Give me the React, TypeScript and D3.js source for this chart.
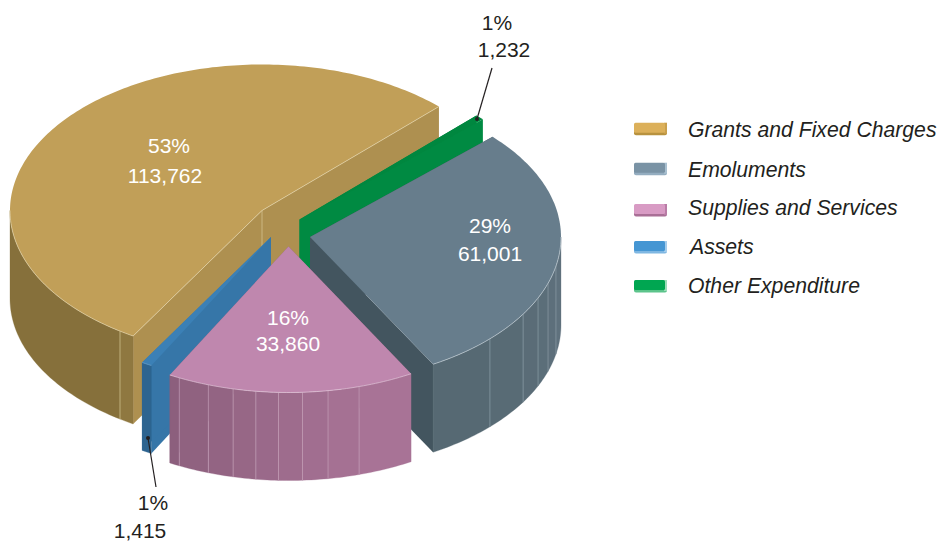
import React, { useEffect, useRef } from "react";
import { select, pie, line, range, interpolateRgb } from "d3";

// chart values, in legend order
const categories = ["Grants and Fixed Charges", "Emoluments", "Supplies and Services", "Assets", "Other Expenditure"];
const amounts = [113762, 61001, 33860, 1415, 1232];
const percentLabels = ["53%", "29%", "16%", "1%", "1%"];
const amountLabels = ["113,762", "61,001", "33,860", "1,415", "1,232"];

// slices run clockwise from the thin green one
const pieOrder = [4, 1, 2, 3, 0];
const startDeg = 44.6;

// facet lines on the outer wall, degrees clockwise from 12 o'clock
const facetLines = [[214.3], [134.2, 121.9, 114.7, 108.5, 101.5], [205.9, 198.7, 192.8, 187.5, 182.3, 176.8, 170.9, 163.6], [], []];

// layout
const radiiX = [252, 251, 250, 252, 252];
const ry = 146;
const depth = 88;
const sliceCenters = [[262, 210.5], [310, 237], [288.5, 246.5], [271, 237], [299.5, 219.5]];
const insideLabels = [[[169, 153], [165, 183]], [[490, 233], [490, 261]], [[288, 325], [288, 351]]];
const legendRows = [[122.7, 137], [162.7, 177], [204, 215], [241, 254], [280, 293]];
const legendTextX = [688, 688, 688, 690, 688];

const sliceStyles = [
  { top: "#c19f58", cut: "#ae9050", wallFrom: "#8f7840", wallTo: "#86703b", rim: "#e2d3a8", divider: "#d8c896", edge: true },
  { top: "#677d8c", cut: "#43555f", wallFrom: "#5f717d", wallTo: "#566973", rim: "#c3ced6", divider: "#8b9ca7", edge: false },
  { top: "#bf87ae", cut: "#8f6280", wallFrom: "#a87396", wallTo: "#8c5f7d", rim: "#e3c6da", divider: "#c49fb8", edge: false },
  { top: "#3b80b6", cut: "#3676a8", wallFrom: "#2d6490", wallTo: "#2d6490", rim: "#6ea3cb", divider: "#6ea3cb", edge: false },
  { top: "#00873f", cut: "#008a42", wallFrom: "#008a42", wallTo: "#008a42", rim: "#4fb07c", divider: "#4fb07c", edge: false },
];
const legendStyles = [
  { main: "#dcb05a", under: "#b8923f", side: "#c9a04d" },
  { main: "#7a93a5", under: "#94adc0", side: "#a9c0d0" },
  { main: "#d89bc4", under: "#a96f96", side: "#b97ca6" },
  { main: "#4596d3", under: "#7fb7e2", side: "#a5cdec" },
  { main: "#00a651", under: "#5cc48b", side: "#9bdcb8" },
];

const rad = (d: number) => (d * Math.PI) / 180;
const sansFont = "'Liberation Sans', Arial, sans-serif";
const labelSize = 21;

function App() {
  const svgRef = useRef<SVGSVGElement>(null);

  useEffect(() => {
    const svg = select(svgRef.current);
    svg.selectAll("*").remove();

    const arcs = pie<number>()
      .sort(null)
      .value((i) => amounts[i])
      .startAngle(rad(startDeg))
      .endAngle(rad(startDeg + 360))(pieOrder);

    const path = line<number[]>().x((p) => p[0]).y((p) => p[1]);

    // painted back to front
    const paintOrder = [0, 4, 3, 1, 2];
    paintOrder.forEach((idx) => {
      const arc = arcs.find((a) => a.data === idx)!;
      const [cx, cy] = sliceCenters[idx];
      const rx = radiiX[idx];
      const style = sliceStyles[idx];
      const g = svg.append("g");

      const rimPoint = (a: number, drop = 0) => [cx + rx * Math.sin(a), cy - ry * Math.cos(a) + drop];
      const sweep = (a0: number, a1: number, drop = 0) => {
        const n = Math.max(2, Math.ceil(Math.abs(a1 - a0) / rad(1)));
        return range(n + 1).map((i) => rimPoint(a0 + ((a1 - a0) * i) / n, drop));
      };

      // flat cut faces
      [arc.startAngle, arc.endAngle].forEach((a) => {
        const r = rimPoint(a);
        g.append("path")
          .attr("d", path([[cx, cy], r, [r[0], r[1] + depth], [cx, cy + depth]]) + "Z")
          .attr("fill", style.cut);
      });
      if (style.edge) {
        g.append("line").attr("x1", cx).attr("y1", cy).attr("x2", cx).attr("y2", cy + depth)
          .attr("stroke", style.divider).attr("stroke-width", 0.7);
      }

      // outer wall, only the part that faces the viewer
      const a0 = Math.max(arc.startAngle, Math.PI / 2);
      const a1 = Math.min(arc.endAngle, (3 * Math.PI) / 2);
      if (a1 > a0) {
        const stops = [a0, ...facetLines[idx].map(rad).sort((x, y) => x - y), a1];
        const tint = interpolateRgb(style.wallFrom, style.wallTo);
        stops.slice(1).forEach((stop, i) => {
          const from = stops[i];
          const shade = tint(stops.length > 2 ? i / (stops.length - 2) : 0);
          g.append("path")
            .attr("d", path([...sweep(from, stop), ...sweep(stop, from, depth)]) + "Z")
            .attr("fill", shade)
            .attr("stroke", shade)
            .attr("stroke-width", 0.3);
        });
        facetLines[idx].forEach((d) => {
          const p = rimPoint(rad(d));
          g.append("line").attr("x1", p[0]).attr("y1", p[1]).attr("x2", p[0]).attr("y2", p[1] + depth)
            .attr("stroke", style.divider).attr("stroke-width", 0.7);
        });
      }

      // top face
      g.append("path")
        .attr("d", path([[cx, cy], ...sweep(arc.startAngle, arc.endAngle)]) + "Z")
        .attr("fill", style.top);

      if (a1 > a0) {
        g.append("path").attr("d", path(sweep(a0, a1))).attr("fill", "none")
          .attr("stroke", style.rim).attr("stroke-width", 0.7);
      }
      if (style.edge) {
        const e0 = rimPoint(arc.startAngle);
        const e1 = rimPoint(arc.endAngle);
        g.append("path").attr("d", path([e0, [cx, cy], e1])).attr("fill", "none")
          .attr("stroke", style.rim).attr("stroke-width", 0.7);
      }
    });

    // labels on the big slices
    insideLabels.forEach(([pct, amt], i) => {
      const t = svg.append("g").attr("fill", "#ffffff").attr("font-family", sansFont).attr("font-size", labelSize).attr("text-anchor", "middle");
      t.append("text").attr("x", pct[0]).attr("y", pct[1]).text(percentLabels[i]);
      t.append("text").attr("x", amt[0]).attr("y", amt[1]).text(amountLabels[i]);
    });

    // leaders for the two thin slices
    const leaders = [
      { idx: 3, dot: [148, 438], end: [156, 487], pct: [153, 510], amt: [140, 538] },
      { idx: 4, dot: [477, 119], end: [492, 68], pct: [497, 30], amt: [504, 57] },
    ];
    leaders.forEach((l) => {
      svg.append("line").attr("x1", l.dot[0]).attr("y1", l.dot[1]).attr("x2", l.end[0]).attr("y2", l.end[1])
        .attr("stroke", "#231f20").attr("stroke-width", 1.2);
      svg.append("circle").attr("cx", l.dot[0]).attr("cy", l.dot[1]).attr("r", 2).attr("fill", "#231f20");
      const t = svg.append("g").attr("fill", "#231f20").attr("font-family", sansFont).attr("font-size", labelSize).attr("text-anchor", "middle");
      t.append("text").attr("x", l.pct[0]).attr("y", l.pct[1]).text(percentLabels[l.idx]);
      t.append("text").attr("x", l.amt[0]).attr("y", l.amt[1]).text(amountLabels[l.idx]);
    });

    // legend
    const legend = svg.selectAll(".legend-row").data(categories).join("g").attr("class", "legend-row");
    legend.append("rect").attr("x", 634).attr("y", (d, i) => legendRows[i][0] + 1).attr("width", 33).attr("height", 11.5).attr("rx", 2)
      .attr("fill", (d, i) => legendStyles[i].under);
    legend.append("rect").attr("x", 664).attr("y", (d, i) => legendRows[i][0]).attr("width", 3).attr("height", 11).attr("fill", (d, i) => legendStyles[i].side);
    legend.append("rect").attr("x", 634).attr("y", (d, i) => legendRows[i][0]).attr("width", 31).attr("height", 10).attr("rx", 1.5)
      .attr("fill", (d, i) => legendStyles[i].main);
    legend.append("text")
      .attr("x", (d, i) => legendTextX[i])
      .attr("y", (d, i) => legendRows[i][1])
      .attr("fill", "#231f20")
      .attr("font-family", sansFont)
      .attr("font-style", "italic")
      .attr("font-size", 21.2)
      .text((d) => d);
  }, []);

  return <svg ref={svgRef} width={942} height={545} style={{ position: "absolute", left: 0, top: 0, background: "#fff" }} />;
}

export default App;
